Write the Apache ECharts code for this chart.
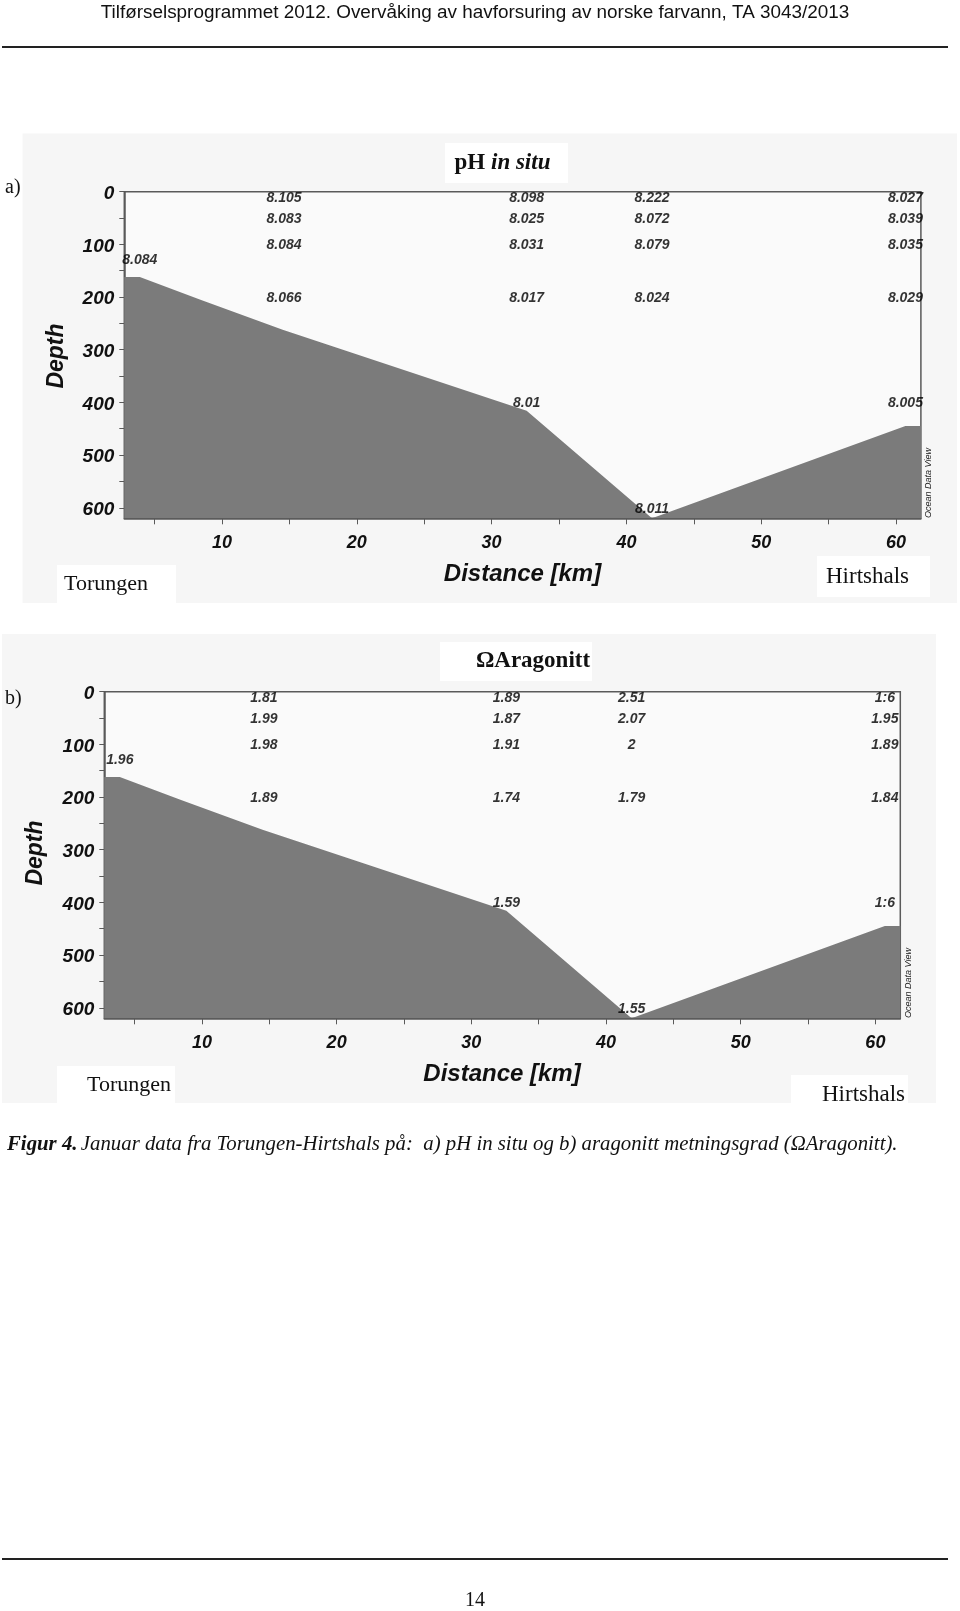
<!DOCTYPE html>
<html>
<head>
<meta charset="utf-8">
<script src="https://cdn.jsdelivr.net/npm/echarts@6/dist/echarts.min.js"></script>
<style>
html,body{margin:0;padding:0;background:#fff;}
#c{width:960px;height:1611px;}
</style>
</head>
<body>
<div id="c"></div>
<script>
// ---------- data ----------
const kmTicks = [5,10,15,20,25,30,35,40,45,50,55,60];
const kmLabels = [10,20,30,40,50,60];
const depthTicks = [0,50,100,150,200,250,300,350,400,450,500,550,600];
const depthLabels = [0,100,200,300,400,500,600];

// bottom profile (distance km, depth m)
const bathyKm    = [2.75, 3.9, 8.4, 14.5, 32.6, 41.9, 60.7, 61.85];
const bathyDepth = [162,  162, 205, 262,  416,  620,  445,  445];

// stations and samples
const stationKm = [3.9, 14.6, 32.6, 41.9, 60.7];
const sampleStation = [0, 1,1,1,1, 2,2,2,2,2, 3,3,3,3,3, 4,4,4,4,4];
const sampleDepth   = [128, 10,50,100,200, 10,50,100,200,400, 10,50,100,200,600, 10,50,100,200,400];
const phValues = ['8.084',
  '8.105','8.083','8.084','8.066',
  '8.098','8.025','8.031','8.017','8.01',
  '8.222','8.072','8.079','8.024','8.011',
  '8.027','8.039','8.035','8.029','8.005'];
const omegaValues = ['1.96',
  '1.81','1.99','1.98','1.89',
  '1.89','1.87','1.91','1.74','1.59',
  '2.51','2.07','2','1.79','1.55',
  '1:6','1.95','1.89','1.84','1:6'];

// ---------- helpers ----------
const SANS = '"Liberation Sans", Arial, sans-serif';
const SERIF = '"Liberation Serif", "Times New Roman", serif';
const AXIS_COL = '#5a5a5a';
const FILL = '#7b7b7b';

function xAxisFor(gi){
  return {
    type:'value', gridIndex:gi, position:'bottom', min:2.75, max:61.85,
    axisLine:{show:true, onZero:false, lineStyle:{color:AXIS_COL, width:1.5}},
    axisTick:{show:true, inside:false, length:6, lineStyle:{color:AXIS_COL, width:1}, customValues:kmTicks},
    axisLabel:{show:true, margin:16, customValues:kmLabels, color:'#111',
      fontFamily:SANS, fontStyle:'italic', fontWeight:'bold', fontSize:18},
    splitLine:{show:false}
  };
}
function yAxisFor(gi){
  return {
    type:'value', gridIndex:gi, inverse:true, min:0, max:620,
    axisLine:{show:true, onZero:false, lineStyle:{color:AXIS_COL, width:1.5}},
    axisTick:{show:true, inside:false, length:5, lineStyle:{color:AXIS_COL, width:1}, customValues:depthTicks},
    axisLabel:{show:true, margin:10, customValues:depthLabels, color:'#111',
      verticalAlign:'top', lineHeight:4,
      fontFamily:SANS, fontStyle:'italic', fontWeight:'bold', fontSize:19},
    splitLine:{show:false}
  };
}
const bathy = bathyKm.map((k,i)=>[k, bathyDepth[i]]);
function labelsData(vals){
  return sampleDepth.map((d,i)=>({value:[stationKm[sampleStation[i]], d], name:vals[i]}));
}
function bathySeries(gi){
  return {type:'line', xAxisIndex:gi, yAxisIndex:gi, data:bathy, symbol:'none', silent:true,
    lineStyle:{width:0, color:FILL}, areaStyle:{color:FILL, opacity:1, origin:'end'}, z:2};
}
function labelSeries(gi, vals){
  return {type:'scatter', xAxisIndex:gi, yAxisIndex:gi, data:labelsData(vals), symbolSize:0,
    itemStyle:{color:'rgba(0,0,0,0)'}, silent:true, z:5,
    label:{show:true, position:'inside', offset:[0,1], formatter:p=>p.name, color:'#000',
      textBorderWidth:0, textBorderColor:'transparent',
      fontFamily:SANS, fontStyle:'italic', fontWeight:'bold', fontSize:14}};
}

function txt(x,y,text,font,extra){
  return Object.assign({type:'text', x:x, y:y, z:10,
    style:Object.assign({text:text, fill:'#111', font:font, textAlign:'left', textVerticalAlign:'middle'}, extra||{})});
}
function rect(x,y,w,h,fill,z){
  return {type:'rect', shape:{x:x,y:y,width:w,height:h}, style:{fill:fill}, z:z||0, silent:true};
}

const graphics = [
  // header
  txt(475, 13, 'Tilførselsprogrammet 2012. Overvåking av havforsuring av norske farvann, TA 3043/2013',
      '18.9px ' + SANS, {textAlign:'center'}),
  {type:'line', shape:{x1:2,y1:47,x2:948,y2:47}, style:{stroke:'#222', lineWidth:2}, z:10},
  // panel backgrounds
  rect(22.6,133.6,934.4,469.4,'#f6f6f6',-10),
  rect(2,634,934,469,'#f6f6f6',-10),
  // title boxes
  rect(445,143,123,40,'#ffffff',-5),
  rect(440,642,152,39,'#ffffff',-5),
  {type:'text', x:502.5, y:163, z:10, style:{
    text:'{b|pH }{bi|in situ}', textAlign:'center', textVerticalAlign:'middle', fill:'#111',
    rich:{b:{font:'bold 23px ' + SERIF, fill:'#111'}, bi:{font:'italic bold 23px ' + SERIF, fill:'#111'}}}},
  txt(533, 661, 'ΩAragonitt', 'bold 23px ' + SERIF, {textAlign:'center'}),
  // a) b)
  txt(5, 188, 'a)', '20px ' + SERIF),
  txt(5, 699, 'b)', '20px ' + SERIF),
  // Torungen / Hirtshals boxes
  rect(57,565,119,38,'#ffffff',-5),
  rect(817,556,113,41,'#ffffff',-5),
  rect(57,1066,118,37,'#ffffff',-5),
  rect(791,1075,117,30,'#ffffff',-5),
  txt(64, 584, 'Torungen', '22px ' + SERIF),
  txt(826, 577, 'Hirtshals', '23px ' + SERIF),
  txt(87, 1085, 'Torungen', '22px ' + SERIF),
  txt(822, 1095, 'Hirtshals', '23px ' + SERIF),
  // axis names
  txt(522.5, 574, 'Distance [km]', 'italic bold 24px ' + SANS, {textAlign:'center'}),
  txt(502, 1074, 'Distance [km]', 'italic bold 24px ' + SANS, {textAlign:'center'}),
  {type:'text', x:56.5, y:356, rotation:Math.PI/2, z:10,
    style:{text:'Depth', font:'italic bold 23px ' + SANS, fill:'#111', textAlign:'center', textVerticalAlign:'middle'}},
  {type:'text', x:36, y:853, rotation:Math.PI/2, z:10,
    style:{text:'Depth', font:'italic bold 23px ' + SANS, fill:'#111', textAlign:'center', textVerticalAlign:'middle'}},
  // Ocean Data View marks
  {type:'text', x:928.5, y:483, rotation:Math.PI/2, z:10,
    style:{text:'Ocean Data View', font:'italic 9px ' + SANS, fill:'#222', textAlign:'center', textVerticalAlign:'middle'}},
  {type:'text', x:908, y:983, rotation:Math.PI/2, z:10,
    style:{text:'Ocean Data View', font:'italic 9px ' + SANS, fill:'#222', textAlign:'center', textVerticalAlign:'middle'}},
  // caption
  {type:'text', x:7, y:1145, z:10, style:{
    text:'{b|Figur 4.} {i|Januar data fra Torungen-Hirtshals på:  a) pH in situ og b) aragonitt metningsgrad (ΩAragonitt).}',
    textVerticalAlign:'middle',
    rich:{b:{font:'italic bold 20.8px ' + SERIF, fill:'#111'}, i:{font:'italic 20.8px ' + SERIF, fill:'#111'}}}},
  // footer
  {type:'line', shape:{x1:2,y1:1559,x2:948,y2:1559}, style:{stroke:'#222', lineWidth:2}, z:10},
  txt(475, 1601, '14', '20px ' + SERIF, {textAlign:'center'})
];

const chart = echarts.init(document.getElementById('c'), null, {renderer:'canvas'});
chart.setOption({
  animation:false,
  backgroundColor:'#ffffff',
  grid:[
    {left:124.3, top:191.7, width:796.6, height:326.6, show:true, backgroundColor:'#fafafa', borderColor:AXIS_COL, borderWidth:1.5},
    {left:104.3, top:691.7, width:796.0, height:326.6, show:true, backgroundColor:'#fafafa', borderColor:AXIS_COL, borderWidth:1.5}
  ],
  xAxis:[xAxisFor(0), xAxisFor(1)],
  yAxis:[yAxisFor(0), yAxisFor(1)],
  series:[bathySeries(0), labelSeries(0, phValues), bathySeries(1), labelSeries(1, omegaValues)],
  graphic:graphics
});
</script>
</body>
</html>
